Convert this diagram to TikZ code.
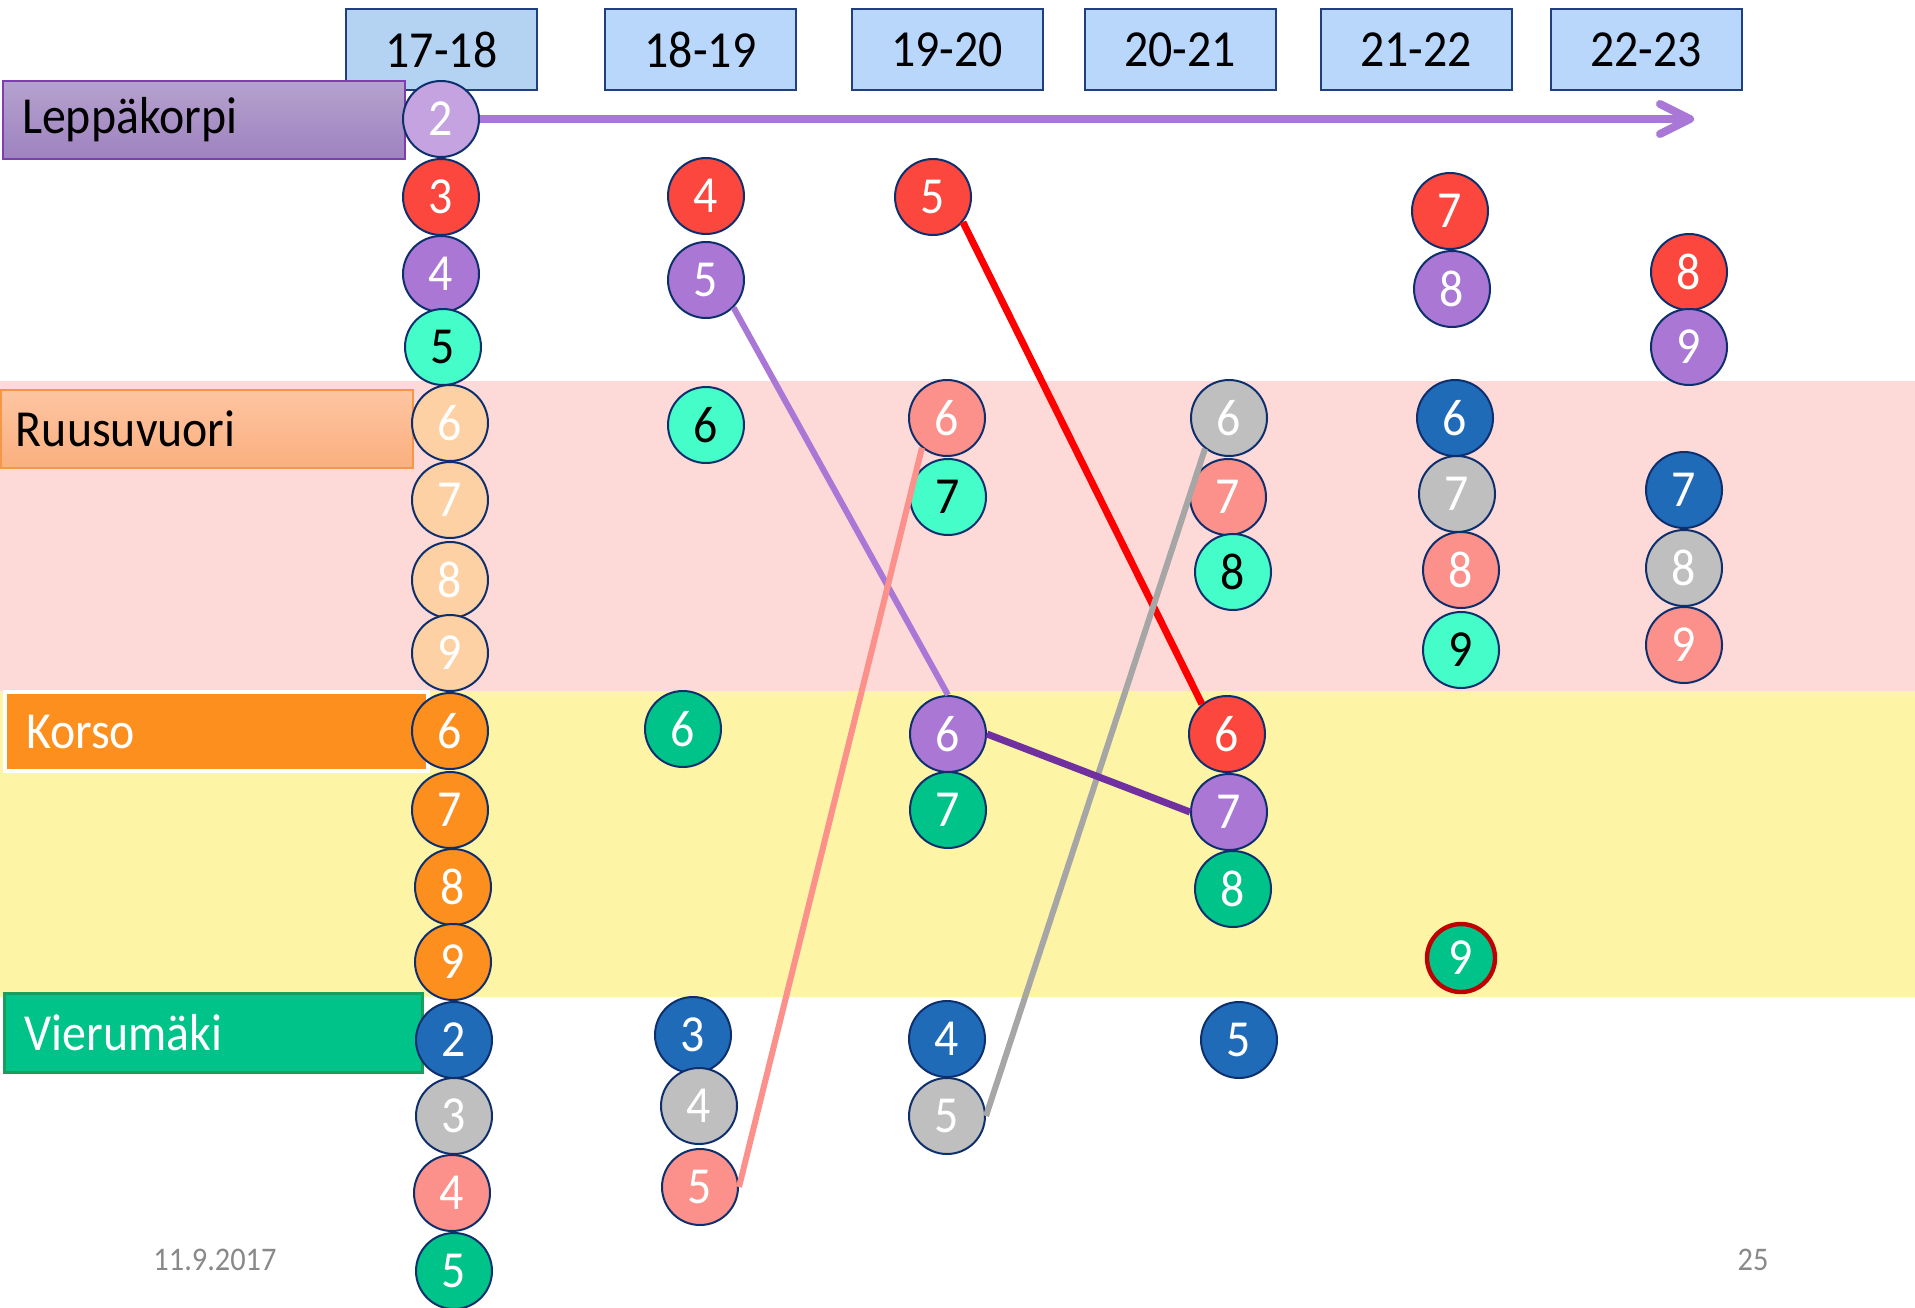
\documentclass[tikz,border=0pt]{standalone}
\usepackage{fontspec}
\setmainfont{Carlito}[FakeStretch=0.92]
\usetikzlibrary{arrows.meta}
\definecolor{bubbord}{HTML}{0E2F6E}
\definecolor{cLpur}{HTML}{C4A3E0}
\definecolor{cRed}{HTML}{FB473D}
\definecolor{cPur}{HTML}{AA77D5}
\definecolor{cCy}{HTML}{45FDC8}
\definecolor{cPe}{HTML}{FDD1A3}
\definecolor{cSa}{HTML}{FB918A}
\definecolor{cOr}{HTML}{FD8F1F}
\definecolor{cGr}{HTML}{00C389}
\definecolor{cBl}{HTML}{206BB8}
\definecolor{cGy}{HTML}{BFBFBF}
\definecolor{hdrfill}{HTML}{B9D6FB}
\definecolor{hdrfillA}{HTML}{B4D2F2}
\definecolor{hdrbord}{HTML}{1F3F7E}
\definecolor{pinkband}{HTML}{FDDAD8}
\definecolor{yelband}{HTML}{FDF4A6}
\definecolor{lepTop}{HTML}{B5A2CE}
\definecolor{lepBot}{HTML}{9E82BF}
\definecolor{lepBord}{HTML}{7B3FB0}
\definecolor{ruuTop}{HTML}{FDC5A2}
\definecolor{ruuBot}{HTML}{FBAF7E}
\definecolor{ruuBord}{HTML}{F79646}
\definecolor{vieBord}{HTML}{1A9E5E}
\definecolor{arrPur}{HTML}{A977D6}
\definecolor{linRed}{HTML}{FF0000}
\definecolor{linGy}{HTML}{A6A6A6}
\definecolor{linDp}{HTML}{7030A0}
\definecolor{ringRed}{HTML}{C00000}
\definecolor{footGy}{HTML}{898989}
\tikzset{
  bub/.style={circle, draw=bubbord, line width=1pt, minimum size=38pt, inner sep=0pt,
    font=\fontsize{26}{26}\selectfont, text=white},
  bLpur/.style={bub, fill=cLpur},
  bRed/.style={bub, fill=cRed},
  bPur/.style={bub, fill=cPur},
  bCy/.style={bub, fill=cCy, text=black},
  bPe/.style={bub, fill=cPe},
  bSa/.style={bub, fill=cSa},
  bOr/.style={bub, fill=cOr},
  bGr/.style={bub, fill=cGr},
  bBl/.style={bub, fill=cBl},
  bGy/.style={bub, fill=cGy},
  hdr/.style={draw=hdrbord, fill=hdrfill, line width=1pt, minimum width=95.5pt,
    minimum height=40.5pt, inner sep=0pt, font=\fontsize{26}{26}\selectfont},
  lbl/.style={anchor=north west, minimum height=39pt, inner ysep=0pt, align=left,
    font=\fontsize{26}{26}\selectfont},
  conn/.style={line width=3pt},
  foot/.style={text=footGy, font=\fontsize{16.5}{16.5}\selectfont, inner sep=0pt}
}
\begin{document}
\begin{tikzpicture}[x=0.5pt,y=-0.5pt]
\useasboundingbox (0,0) rectangle (1915,1307);
\clip (0,0) rectangle (1915,1307);
% bands
\fill[pinkband] (0,381) rectangle (1915,691);
\fill[yelband] (0,691) rectangle (1915,997);
% headers
\node[hdr, fill=hdrfillA] (h1) at (441.5,49.5) {17-18};
\node[hdr] (h2) at (700.5,49.5) {18-19};
\node[hdr] (h3) at (947,49.5) {19-20};
\node[hdr] (h4) at (1180,49.5) {20-21};
\node[hdr] (h5) at (1416,49.5) {21-22};
\node[hdr] (h6) at (1646,49.5) {22-23};
% labels
\node[lbl, draw=lepBord, line width=1pt, top color=lepTop, bottom color=lepBot,
  inner xsep=9.5pt, text width=182pt] (lep) at (2,80) {Leppäkorpi};
\node[lbl, draw=ruuBord, line width=1pt, top color=ruuTop, bottom color=ruuBot,
  inner xsep=7.5pt, text width=191pt] (ruu) at (0,389) {Ruusuvuori};
\node[lbl, draw=white, line width=2pt, fill=cOr, text=white,
  inner xsep=10.5pt, text width=190.5pt, minimum height=39.5pt] (kor) at (3,690) {Korso};
\node[lbl, draw=vieBord, line width=1.5pt, fill=cGr, text=white,
  inner xsep=10pt, text width=189pt, minimum height=39.5pt] (vie) at (3,992) {Vierumäki};
% column 1
\node[bLpur] (a2) at (441,119) {2};
\node[bRed] (a3) at (441,197) {3};
\node[bPur] (a4) at (441,274) {4};
\node[bCy] (a5) at (443,347) {5};
\node[bPe] (a6r) at (450,423) {6};
\node[bPe] (a7r) at (450,500) {7};
\node[bPe] (a8r) at (450,580) {8};
\node[bPe] (a9r) at (450,653) {9};
\node[bOr] (a6k) at (450,731) {6};
\node[bOr] (a7k) at (450,810) {7};
\node[bOr] (a8k) at (453,887) {8};
\node[bOr] (a9k) at (453,962) {9};
\node[bBl] (a2v) at (454,1040) {2};
\node[bGy] (a3v) at (454,1116) {3};
\node[bSa] (a4v) at (452,1193) {4};
\node[bGr] (a5v) at (454,1271) {5};
% column 2
\node[bRed] (b4) at (706,196) {4};
\node[bPur] (b5) at (706,280) {5};
\node[bCy] (b6r) at (706,425) {6};
\node[bGr] (b6k) at (683,729) {6};
\node[bBl] (b3v) at (693,1035) {3};
\node[bGy] (b4v) at (699,1106) {4};
\node[bSa] (b5v) at (700,1187) {5};
% column 3
\node[bRed] (c5) at (933,197) {5};
\node[bSa] (c6r) at (947,418) {6};
\node[bCy] (c7r) at (948,497) {7};
\node[bPur] (c6k) at (948,734) {6};
\node[bGr] (c7k) at (948,810) {7};
\node[bBl] (c4v) at (947,1039) {4};
\node[bGy] (c5v) at (947,1116) {5};
% column 4
\node[bGy] (d6r) at (1229,418) {6};
\node[bSa] (d7r) at (1228,497) {7};
\node[bCy] (d8r) at (1233,572) {8};
\node[bRed] (d6k) at (1227,734) {6};
\node[bPur] (d7k) at (1229,812) {7};
\node[bGr] (d8k) at (1233,889) {8};
\node[bBl] (d5v) at (1239,1040) {5};
% column 5
\node[bRed] (e7) at (1450,211) {7};
\node[bPur] (e8) at (1452,289) {8};
\node[bBl] (e6r) at (1455,418) {6};
\node[bGy] (e7r) at (1457,494) {7};
\node[bSa] (e8r) at (1461,570) {8};
\node[bCy] (e9r) at (1461,650) {9};
\node[bGr, draw=ringRed, line width=2.2pt, minimum size=34pt] (e9k) at (1461,958) {9};
% column 6
\node[bRed] (f8) at (1689,272) {8};
\node[bPur] (f9) at (1689,347) {9};
\node[bBl] (f7r) at (1684,490) {7};
\node[bGy] (f8r) at (1684,568) {8};
\node[bSa] (f9r) at (1684,645) {9};
% arrow
\coordinate (arrEnd) at (1694,119);
\draw[arrPur, line width=4pt, -{Straight Barb[length=15pt,width=15pt,round]}] (a2) -- (arrEnd);
% connectors
\draw[conn, arrPur] (b5.south east) -- (c6k.north);
\draw[conn, linRed, line width=3.5pt] (c5.-40) -- (d6k.130);
\draw[conn, cSa] (b5v.east) -- (c6r.-130);
\draw[conn, linGy] (c5v.east) -- (d6r.-128);
\draw[conn, linDp, line width=3.5pt] (c6k.east) -- (d7k.west);
% footer
\node[foot] (date) at (215,1260) {11.9.2017};
\node[foot] (page) at (1753,1260) {25};
\end{tikzpicture}
\end{document}
